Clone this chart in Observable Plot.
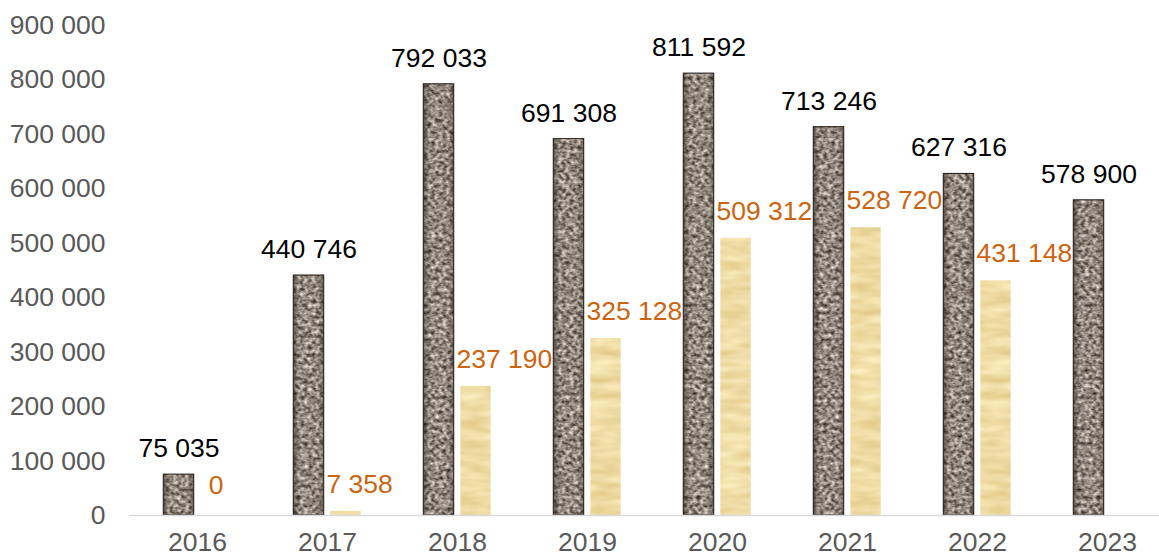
<!DOCTYPE html>
<html><head><meta charset="utf-8">
<script src="https://cdn.jsdelivr.net/npm/d3@7"></script>
<script src="https://cdn.jsdelivr.net/npm/@observablehq/plot@0.6"></script>
<style>html,body{margin:0;padding:0;overflow:hidden;background:#fff}</style>
</head><body><div id="chart"></div>
<script>
const years = ["2016", "2017", "2018", "2019", "2020", "2021", "2022", "2023"];
const darkValues = [75035, 440746, 792033, 691308, 811592, 713246, 627316, 578900];
const lightValues = [0, 7358, 237190, 325128, 509312, 528720, 431148, null];
const yTicks = [0, 100000, 200000, 300000, 400000, 500000, 600000, 700000, 800000, 900000];

const darkRows = years.map((year, i) => ({year, value: darkValues[i]}));
const lightRows = years.map((year, i) => ({year, value: lightValues[i]})).filter(d => d.value != null);

const fmt = v => d3.format(",")(v).replace(/,/g, " ");

const FS = 26.5;
const barW = 31, gap = 6, step = (1174 - 129) / years.length;
const inset = (step - barW) / 2;
const off = (barW + gap) / 2;

const chart = Plot.plot({
  width: 1174, height: 556,
  marginLeft: 129, marginRight: 0, marginTop: 25, marginBottom: 41,
  style: {fontFamily: "'Liberation Sans', Arial, sans-serif", fontSize: FS + "px", background: "white", overflow: "visible"},
  x: {domain: years, padding: 0, label: null},
  y: {domain: [0, 900000], label: null},
  marks: [
    Plot.axisY({ticks: yTicks, tickSize: 0, tickPadding: 24, tickFormat: fmt, fill: "#595959", label: null, fontSize: FS}),
    Plot.axisX({tickSize: 0, tickPadding: 17, fill: "#595959", label: null, fontSize: FS}),
    Plot.barY(darkRows, {x: "year", y: "value", dx: -off, insetLeft: inset, insetRight: inset, fill: "url(#granite)"}),
    Plot.barY(darkRows, {x: "year", y: "value", dx: -off, insetLeft: inset, insetRight: inset, fill: "url(#edge)"}),
    Plot.barY(darkRows, {x: "year", y: "value", dx: -off, insetLeft: inset, insetRight: inset, fill: "none", stroke: "#2a231d", strokeWidth: 1.1}),
    Plot.barY(lightRows, {x: "year", y: "value", dx: off, insetLeft: inset, insetRight: inset, fill: "url(#papyrus)"}),
    Plot.ruleY([0], {stroke: "#d9d9d9", strokeWidth: 1.5}),
    Plot.text(darkRows, {x: "year", y: "value", text: d => fmt(d.value), dx: -off, dy: -26, fill: "#000", fontSize: FS}),
    Plot.text(lightRows.filter(d => d.value > 0), {x: "year", y: "value", text: d => fmt(d.value), dx: -1, dy: -27, textAnchor: "start", fill: "#cc6410", fontSize: FS}),
    Plot.text(lightRows.filter(d => d.value === 0), {x: "year", y: "value", text: d => fmt(d.value), dx: off, dy: -30, fill: "#cc6410", fontSize: FS})
  ]
});
chart.style.maxWidth = "none";
chart.style.height = "556px";

d3.select(chart).insert("defs", ":first-child").html(`
  <filter id="fGranite" x="0" y="0" width="1" height="1" color-interpolation-filters="sRGB">
    <feTurbulence type="fractalNoise" baseFrequency="0.26" numOctaves="3" seed="7" result="n"/>
    <feColorMatrix in="n" type="matrix" values="1.15 0 0 0 0.0  1.15 0 0 0 -0.04  1.15 0 0 0 -0.08  0 0 0 0 1"/>
  </filter>
  <pattern id="granite" patternUnits="userSpaceOnUse" x="0" y="0" width="400" height="600">
    <rect width="400" height="600" filter="url(#fGranite)"/>
  </pattern>
  <filter id="fPapyrus" x="0" y="0" width="1" height="1" color-interpolation-filters="sRGB">
    <feTurbulence type="fractalNoise" baseFrequency="0.03 0.12" numOctaves="2" seed="3" result="n"/>
    <feColorMatrix in="n" type="matrix" values="0.15 0 0 0 0.86  0.2 0 0 0 0.76  0.3 0 0 0 0.49  0 0 0 0 1"/>
  </filter>
  <pattern id="papyrus" patternUnits="userSpaceOnUse" x="0" y="0" width="400" height="600">
    <rect width="400" height="600" filter="url(#fPapyrus)"/>
  </pattern>
  <linearGradient id="edge" x1="0" x2="1" y1="0" y2="0">
    <stop offset="0" stop-color="#1e1914" stop-opacity="0.5"/>
    <stop offset="0.2" stop-color="#1e1914" stop-opacity="0"/>
    <stop offset="0.8" stop-color="#1e1914" stop-opacity="0"/>
    <stop offset="1" stop-color="#1e1914" stop-opacity="0.35"/>
  </linearGradient>
`);

document.getElementById("chart").appendChild(chart);
</script>
</body></html>
